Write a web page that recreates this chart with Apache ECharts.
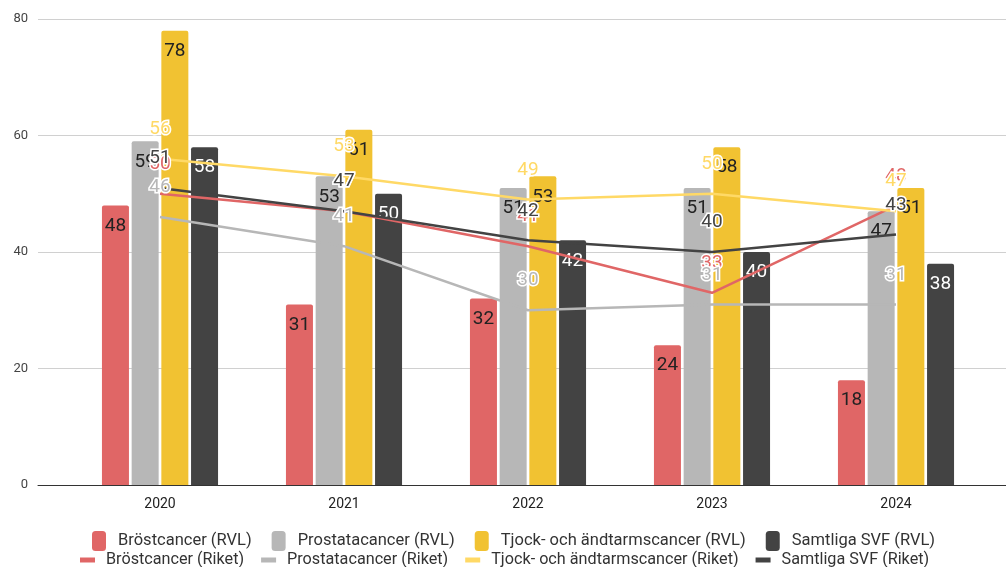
<!DOCTYPE html>
<html><head><meta charset="utf-8">
<script src="https://cdn.jsdelivr.net/npm/echarts@6/dist/echarts.min.js"></script>
<style>html,body{margin:0;padding:0;background:#fff}#c{width:1006px;height:567px}</style>
</head><body><div id="c"></div>
<script>
const categories = ['2020','2021','2022','2023','2024'];
const yTicks = [0,20,40,60,80];
const brostRVL = [48,31,32,24,18];
const prostataRVL = [59,53,51,51,47];
const tjockRVL = [78,61,53,58,51];
const samtligaRVL = [58,50,42,40,38];
const brostRiket = [50,47,41,33,48];
const prostataRiket = [46,41,30,31,31];
const tjockRiket = [56,53,49,50,47];
const samtligaRiket = [51,47,42,40,43];

const FONT = 'Roboto';
const chart = echarts.init(document.getElementById('c'));

function bar(name, data, color, txt){
  return {name, type:'bar', data, xAxisIndex:1, yAxisIndex:1, z:2,
    barWidth: 27, barGap:'10%',
    itemStyle:{color, borderRadius:[2,2,0,0]},
    label:{show:true, position:'insideTop', distance:11, fontFamily:FONT, fontSize:19, color:txt}
  };
}
function line(name, data, color){
  return {name, type:'line', data, xAxisIndex:1, yAxisIndex:1, z:5,
    symbol:'circle', symbolSize:0.1, showSymbol:true,
    itemStyle:{color}, lineStyle:{color, width:2.5},
    label:{show:true, position:'top', distance:20, fontFamily:FONT, fontSize:19, color,
      textBorderColor:'#fff', textBorderWidth:3}
  };
}

chart.setOption({
  animation:false,
  textStyle:{fontFamily:FONT},
  grid:[
    {left:38, right:0, top:19, bottom:82},
    {left:68, right:18, top:19, bottom:82}
  ],
  xAxis:[
    {type:'category', gridIndex:0, data:categories, axisLine:{lineStyle:{color:'#333', width:1}},
     axisTick:{show:false}, axisLabel:{show:false}},
    {type:'category', gridIndex:1, data:categories, axisLine:{show:false}, axisTick:{show:false},
     axisLabel:{color:'#222', fontSize:14, fontFamily:FONT, margin:12}}
  ],
  yAxis:[
    {type:'value', gridIndex:0, min:yTicks[0], max:yTicks[yTicks.length-1], interval:20,
     axisLine:{show:false}, axisTick:{show:false},
     axisLabel:{color:'#444', fontSize:13, fontFamily:FONT, margin:10},
     splitLine:{lineStyle:{color:'#d0d0d0', width:1}}},
    {type:'value', gridIndex:1, min:0, max:80, interval:20, show:false, splitLine:{show:false}}
  ],
  legend:[
    {data:['Bröstcancer (RVL)','Prostatacancer (RVL)','Tjock- och ändtarmscancer (RVL)','Samtliga SVF (RVL)'],
     top:526, left:87, icon:'roundRect', itemWidth:14, itemHeight:20, itemGap:20,
     textStyle:{fontFamily:FONT, fontSize:16.5, color:'#333', padding:[0,0,0,7]}},
    {data:['Bröstcancer (Riket)','Prostatacancer (Riket)','Tjock- och ändtarmscancer (Riket)','Samtliga SVF (Riket)'],
     top:547, left:75, icon:'rect', itemWidth:15, itemHeight:5, itemGap:17,
     textStyle:{fontFamily:FONT, fontSize:16.2, color:'#333', padding:[0,0,0,6]}}
  ],
  series:[
    bar('Bröstcancer (RVL)', brostRVL, '#e06666', '#222'),
    bar('Prostatacancer (RVL)', prostataRVL, '#b7b7b7', '#222'),
    bar('Tjock- och ändtarmscancer (RVL)', tjockRVL, '#f1c232', '#222'),
    bar('Samtliga SVF (RVL)', samtligaRVL, '#434343', '#fff'),
    line('Bröstcancer (Riket)', brostRiket, '#e06666'),
    line('Prostatacancer (Riket)', prostataRiket, '#b7b7b7'),
    line('Tjock- och ändtarmscancer (Riket)', tjockRiket, '#ffd966'),
    line('Samtliga SVF (Riket)', samtligaRiket, '#434343')
  ]
});
</script></body></html>
